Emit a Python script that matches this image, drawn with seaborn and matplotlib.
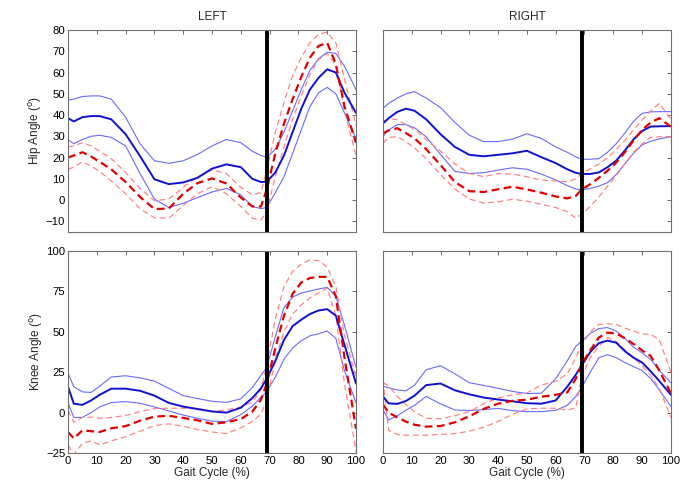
import numpy as np
import pandas as pd
import seaborn as sns
import matplotlib
matplotlib.use('Agg')
import matplotlib.pyplot as plt

# gait cycle sample points (%)
gait = [0, 2, 5, 8, 11, 15, 20, 25, 30, 35, 40, 45, 50, 55, 60, 64, 67, 69,
        72, 75, 78, 81, 84, 87, 90, 93, 96, 100]

# hip, left side
hipL_blue = [38.5, 37, 39, 39.5, 39.5, 38, 31, 20.7, 9.8, 7.5, 8.3, 10.5, 14.8, 16.8, 15.5, 10, 8.5, 8.6,
             13, 21, 32, 43, 52, 57.5, 61.5, 60, 50.5, 41]
hipL_blue_hi = [47, 47.5, 48.7, 49, 49, 47.5, 39, 26.5, 18.5, 17.3, 18.5, 21.5, 25.5, 28.5, 27, 23, 21, 20,
                24, 32, 42, 52, 61, 66.5, 69.5, 69, 63, 52]
hipL_blue_lo = [28.5, 26.5, 28.5, 30, 30.5, 29.5, 25.5, 12.5, 0.5, -3.5, -1.5, 1.2, 3.8, 5.5, 2.5, -3, -4, -3.5,
                3.5, 11, 22, 33, 44, 50.5, 53, 50, 41, 29]
hipL_red = [20, 21, 22.5, 20.5, 18, 14.5, 8.5, 1.5, -4.2, -4, 3, 8, 10.2, 7.8, 1.2, -3, -3, 5,
            22, 36, 47.5, 58, 67, 72.5, 74, 64, 44, 27]
hipL_red_hi = [25, 25.5, 27, 25.5, 23, 19.5, 13, 5.5, -0.3, 0.5, 6, 11, 14.2, 12.5, 6, 2.5, 3.5, 14,
               32, 46, 58.5, 67, 74, 78, 79, 74, 57, 35]
hipL_red_lo = [14.5, 15.5, 18, 16, 13.5, 9, 3, -4, -8.3, -8.5, -2.5, 3, 6.3, 3, -3, -8.5, -9.5, -5,
               11, 25, 38, 49, 59, 66, 69, 63.5, 42, 21]

# hip, right side
hipR_blue = [36, 38.5, 41.5, 43, 42, 38, 31, 25, 21.3, 20.6, 21.3, 22, 23.2, 20.2, 17.4, 14.5, 12.8, 12.3,
             12.3, 13, 15.5, 18.5, 23.3, 28.5, 32.5, 34.6, 34.7, 34.8]
hipR_blue_hi = [43.2, 45.5, 48, 50, 51, 48, 43.5, 36.5, 30.5, 27.5, 27.5, 28.7, 31.2, 29, 25, 22.5, 20.3, 19.2,
                19.2, 19.5, 22.5, 26.5, 31.5, 37, 40.8, 41.5, 41.6, 41.6]
hipR_blue_lo = [30, 33, 35.5, 35.5, 34, 29.8, 21.5, 13.5, 12.5, 12.9, 14.1, 15.2, 14.5, 12.2, 9.5, 6.8, 5.2, 4.8,
                5.5, 6.6, 8.2, 12, 17, 22, 26, 27.7, 28.8, 29.8]
hipR_red = [31.4, 32.8, 33.8, 31.5, 29, 24, 16.5, 8.5, 4.2, 3.8, 5.1, 6.3, 5, 3.5, 1.7, 0.8, 2, 4.9,
            7.5, 10.5, 13.8, 17.6, 22.5, 28, 33, 36.5, 38.5, 34.5]
hipR_red_hi = [37, 38.3, 37.8, 35.5, 33.3, 28.5, 23, 17, 12.5, 11, 12.5, 12.2, 11, 9.4, 9, 8.6, 10, 12.4,
               14.7, 17, 19.8, 23.8, 28, 33, 37.7, 42, 45.5, 38]
hipR_red_lo = [26.7, 29.5, 29.8, 27.5, 24.5, 19.5, 12, 5.2, 0.5, -1.4, -0.8, 0.4, -0.5, -2, -3.5, -5.5, -8.5, -6.5,
               -3, 1.5, 6.5, 11.5, 17, 22.5, 26.5, 29.5, 29.8, 29.8]

# knee, left side
kneeL_blue = [16, 5.5, 4.8, 7.5, 11, 14.8, 14.8, 13.5, 10.5, 6, 3.7, 2.2, 0.7, 0, 3, 9, 15, 21,
              32, 45, 53.5, 57.5, 61, 63.2, 64, 60, 42, 18]
kneeL_blue_hi = [24.5, 16, 12.8, 12.5, 16.3, 22, 22.8, 21.5, 19.5, 15, 10.5, 8.7, 7, 6.3, 8.5, 15.5, 23, 28,
                 47, 65, 71.5, 74, 75.2, 76.5, 77.5, 72, 54, 28]
kneeL_blue_lo = [6, -3, -3, 0, 3.5, 6.2, 6.8, 5.8, 3.5, 1, -1.5, -3.6, -5.3, -5.6, -1.3, 4, 9.5, 13,
                 22, 33, 40, 44.5, 47.5, 48.8, 50.5, 46, 26, 6]
kneeL_red = [-12, -16, -11, -11.5, -12, -9.7, -8.4, -5, -2.5, -2, -3.3, -4.8, -7, -6, -4, 0.5, 8, 18,
             40, 60, 73.5, 80.5, 83.3, 84, 84, 72, 34, -10]
kneeL_red_hi = [1.5, -6, -3, -2.8, -3.5, -3, -1.8, 0.6, 2.5, 2.7, 2.7, 2.6, 0.7, 1.7, 3.5, 6.5, 14, 30,
                58, 78, 87.5, 91.8, 94.5, 94, 90, 78, 48, 22]
kneeL_red_lo = [-20, -26, -19, -17.5, -20, -17.5, -15, -11.5, -8, -7, -8.5, -10.5, -12, -13, -9.5, -5.5, -1, 8,
                33, 50, 61, 66.5, 71, 74, 77, 60, 18, -24]

# knee, right side
kneeR_blue = [10, 5.7, 5.4, 7.2, 10.5, 17, 18, 13.8, 11.3, 9.3, 8.1, 7, 5.8, 5.5, 7.5, 16, 23.5, 29,
              37.5, 43, 44.5, 43.3, 38, 34, 31, 25.5, 19.5, 11]
kneeR_blue_hi = [16.3, 15.3, 14, 13.5, 17, 26.5, 29, 24, 18.5, 16.8, 15, 13.1, 11.8, 12, 21, 32, 41, 44,
                 49, 52, 52.6, 50.5, 46, 40.5, 37, 33, 26, 18.4]
kneeR_blue_lo = [1.7, -4.5, -2, 1.5, 4.5, 10, 5.4, 1.6, 1.3, 1.8, 2.6, 1.2, 0.6, 0.6, 1.4, 4.5, 10, 15.5,
                 25, 34, 35.8, 34, 31, 28.5, 26, 21, 14, 3.8]
kneeR_red = [5, 0, -3, -5.6, -7.5, -8.7, -8.3, -6, -2.3, 2.3, 5.5, 7.3, 8, 9.8, 11, 12.5, 21, 30,
             38.5, 46.5, 49.5, 49, 46, 42.5, 38.5, 35, 26, 12]
kneeR_red_hi = [18.5, 16.5, 10, 5, 0.5, -3.5, -3.8, -2, 0.6, 5.5, 9, 11, 12.2, 17, 19.3, 24, 34, 42,
                50, 54.5, 55, 54.5, 52.3, 50.5, 48.6, 48.5, 45, 25]
kneeR_red_lo = [20, -11, -13.5, -14, -14, -14, -13.5, -13, -11.5, -9, -5.5, -1, 2.3, 2.7, 2.7, 1.5, 3, 22,
                34, 41, 46.5, 44, 39, 34, 29, 23, 15, -3]

toe_off = 69

sns.set_style('white')
plt.rcParams['font.family'] = ['Liberation Sans', 'DejaVu Sans']
plt.rcParams['font.size'] = 7.5

fig = plt.figure(figsize=(6.85, 5.04), dpi=100)
lefts = [0.0993, 0.559]
width = 0.4204
bottoms = [0.5397, 0.1012]
height = 0.4008

panels = [
    [(hipL_blue, hipL_blue_hi, hipL_blue_lo, hipL_red, hipL_red_hi, hipL_red_lo),
     (hipR_blue, hipR_blue_hi, hipR_blue_lo, hipR_red, hipR_red_hi, hipR_red_lo)],
    [(kneeL_blue, kneeL_blue_hi, kneeL_blue_lo, kneeL_red, kneeL_red_hi, kneeL_red_lo),
     (kneeR_blue, kneeR_blue_hi, kneeR_blue_lo, kneeR_red, kneeR_red_hi, kneeR_red_lo)],
]

for r in range(2):
    for c in range(2):
        ax = fig.add_axes([lefts[c], bottoms[r], width, height])
        b, bh, bl, rd, rh, rl = panels[r][c]
        df = pd.DataFrame({'gait': gait, 'b': b, 'bh': bh, 'bl': bl, 'r': rd, 'rh': rh, 'rl': rl})

        sns.lineplot(data=df, x='gait', y='bh', ax=ax, color='#6a6aff', lw=0.8)
        sns.lineplot(data=df, x='gait', y='bl', ax=ax, color='#6a6aff', lw=0.8)
        sns.lineplot(data=df, x='gait', y='rh', ax=ax, color='#ff8080', lw=0.85, linestyle=(0, (5, 3)))
        sns.lineplot(data=df, x='gait', y='rl', ax=ax, color='#ff8080', lw=0.85, linestyle=(0, (5, 3)))
        sns.lineplot(data=df, x='gait', y='b', ax=ax, color='#1010d0', lw=1.4)
        sns.lineplot(data=df, x='gait', y='r', ax=ax, color='#e00000', lw=1.6, linestyle=(0, (3.5, 2)))

        ax.axvline(toe_off, color='black', lw=2.8)

        ax.set_xlim(0, 100)
        ax.set_xticks(np.arange(0, 101, 10))
        if r == 0:
            ax.set_ylim(-15, 80)
            ax.set_yticks(np.arange(-10, 81, 10))
        else:
            ax.set_ylim(-25, 100)
            ax.set_yticks([-25, 0, 25, 50, 75, 100])

        ax.tick_params(direction='in', top=True, right=True, length=3, width=0.6,
                       colors='#505050', labelcolor='black', pad=2, labelsize=8.2)
        for s in ax.spines.values():
            s.set_color('#707070')
            s.set_linewidth(0.8)

        if c == 1:
            ax.set_yticklabels([])
            ax.set_ylabel('')
        if r == 0:
            ax.set_xticklabels([])
            ax.set_xlabel('')
            ax.set_title('LEFT' if c == 0 else 'RIGHT', fontsize=8.5, pad=7)
        else:
            ax.set_xlabel('Gait Cycle (%)', fontsize=8.5, labelpad=1)
        if c == 0:
            ax.set_ylabel('Hip Angle ($^{\\mathrm{o}}$)' if r == 0 else 'Knee Angle ($^{\\mathrm{o}}$)',
                          fontsize=8.5, labelpad=1)

fig.savefig('out.png', dpi=100)
